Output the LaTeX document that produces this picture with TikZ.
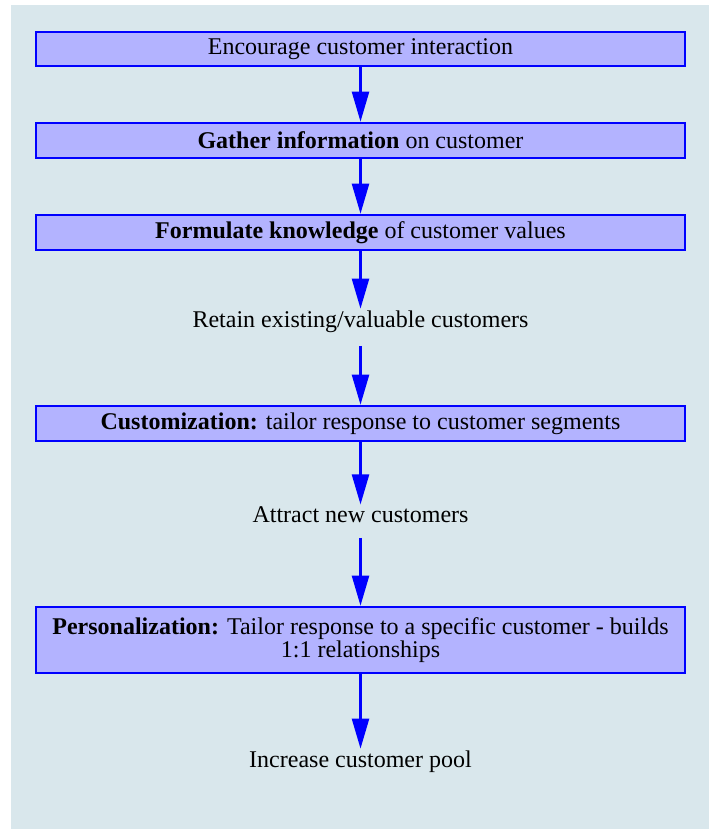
\documentclass[tikz,border=0pt]{standalone}
\usepackage{fontspec}
\setmainfont{Liberation Serif}
\usetikzlibrary{arrows.meta}
\definecolor{panel}{HTML}{D9E7EC}
\definecolor{boxfill}{HTML}{B3B3FF}
\definecolor{edge}{HTML}{0000FF}
\begin{document}
\begin{tikzpicture}[x=1pt,y=-1pt,
  every node/.style={font=\fontsize{24}{23.3}\selectfont},
  stepbox/.style={draw=edge, fill=boxfill, line width=2.6pt, minimum width=649pt, inner sep=0pt, align=center},
  plain/.style={inner sep=1.5pt, anchor=base},
  flow/.style={draw=edge, line width=2.3pt, -{Triangle[length=30pt,width=17pt]}}]
\useasboundingbox (0,0) rectangle (709,829);
\fill[panel] (11,5) rectangle (709,829);
\node[stepbox, minimum height=34pt] (b1) at (360.5,49) {Encourage customer interaction};
\node[stepbox, minimum height=35pt] (b2) at (360.5,140.5) {\textbf{Gather information} on customer};
\node[stepbox, minimum height=35pt] (b3) at (360.5,232.5) {\textbf{Formulate knowledge} of customer values};
\node[plain] (t1) at (360.5,327) {Retain existing/valuable customers};
\node[stepbox, minimum height=35pt] (b4) at (360.5,423.5) {\textbf{Customization:} tailor response to customer segments};
\node[plain] (t2) at (360.5,522) {Attract new customers};
\node[stepbox, minimum height=66pt] (b5) at (360.5,640) {\textbf{Personalization:} Tailor response to a specific customer - builds\\1:1 relationships};
\node[plain] (t3) at (360.5,767) {Increase customer pool};
\draw[flow] (b1.south) -- (b2.north);
\draw[flow] (b2.south) -- (b3.north);
\draw[flow] (b3.south) -- (t1.north);
\draw[flow, shorten <=12pt] (t1.south) -- (b4.north);
\draw[flow] (b4.south) -- (t2.north);
\draw[flow, shorten <=14pt] (t2.south) -- (b5.north);
\draw[flow] (b5.south) -- (t3.north);
\end{tikzpicture}
\end{document}
